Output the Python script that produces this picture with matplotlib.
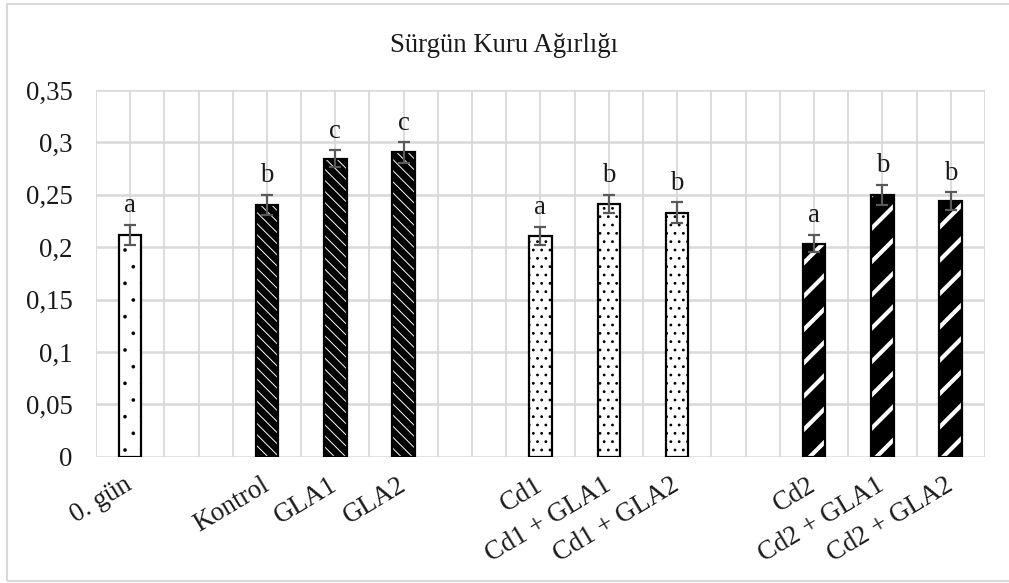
"""
Sürgün kuru ağırlığı bar chart, Excel-like pattern fills.
"""

import matplotlib

matplotlib.use("Agg")
import matplotlib.pyplot as plt
import matplotlib.ticker as mtick
from matplotlib.patches import Rectangle

plt.rcParams["font.family"] = ["Liberation Serif", "DejaVu Serif"]

# Data
categories = [
    "0. gün", "",
    "Kontrol", "GLA1", "GLA2", "",
    "Cd1", "Cd1 + GLA1", "Cd1 + GLA2", "",
    "Cd2", "Cd2 + GLA1", "Cd2 + GLA2",
]
values = [0.212, None, 0.2405, 0.2845, 0.2905, None,
          0.211, 0.2413, 0.233, None, 0.2035, 0.250, 0.2437]
errors = [0.0095, None, 0.0095, 0.008, 0.0097, None,
          0.0086, 0.0085, 0.0098, None, 0.0085, 0.0095, 0.0085]
letters = ["a", None, "b", "c", "c", None,
           "a", "b", "b", None, "a", "b", "b"]
# fill style per bar: (face, hatch, hatch colour, hatch linewidth)
styles = {
    "sparse": ("white", ".", "black", 0.2),
    "dark_diag": ("black", "\\\\\\", "white", 0.7),
    "dots": ("white", "..", "black", 0.8),
    "wide_diag": ("black", "/", "white", 3.0),
}
bar_styles = ["sparse", None, "dark_diag", "dark_diag", "dark_diag", None,
              "dots", "dots", "dots", None, "wide_diag", "wide_diag", "wide_diag"]

title = "Sürgün Kuru Ağırlığı"
yticks = [0, 0.05, 0.1, 0.15, 0.2, 0.25, 0.3, 0.35]

fig = plt.figure(figsize=(10.09, 5.83), dpi=100)
ax = fig.add_axes([0.0951, 0.2166, 0.881, 0.629])

grid_col = "#d9d9d9"
text_size = 19.3
bar_width = 0.33

for i, v in enumerate(values):
    if v is None:
        continue
    face, hatch, hcol, hlw = styles[bar_styles[i]]
    with plt.rc_context({"hatch.linewidth": hlw}):
        fill = ax.bar(i, v, width=bar_width, color=face, edgecolor=hcol,
                      hatch=hatch, linewidth=0, zorder=3)
    for p in fill:
        if hasattr(p, "set_hatch_linewidth"):
            p.set_hatch_linewidth(hlw)
    ax.bar(i, v, width=bar_width, facecolor="none", edgecolor="black",
           linewidth=1.6, zorder=4)
    ax.errorbar(i, v, yerr=errors[i], fmt="none", ecolor="#595959",
                elinewidth=1.6, capsize=4.5, capthick=1.6, zorder=5)
    ax.annotate(letters[i], (i, v + errors[i]), xytext=(0, 9),
                textcoords="offset points", ha="center", va="baseline",
                fontsize=text_size, color="#1a1a1a")

ax.set_xlim(-0.5, len(categories) - 0.5)
ax.set_ylim(0, 0.35)
ax.set_yticks(yticks)
ax.yaxis.set_major_formatter(
    mtick.FuncFormatter(lambda y, _: f"{y:g}".replace(".", ","))
)

# gridlines: horizontal at ticks, vertical at every half slot
for y in yticks:
    ax.axhline(y, color=grid_col, linewidth=1.8, zorder=1)
for k in range(2 * len(categories) + 1):
    ax.axvline(-0.5 + 0.5 * k, color=grid_col, linewidth=1.3, zorder=1)

ax.set_xticks(range(len(categories)))
ax.set_xticklabels(categories, rotation=31, ha="right", va="center",
                   rotation_mode="anchor", fontsize=text_size, color="#1a1a1a")
ax.tick_params(axis="x", length=0, pad=19)
ax.tick_params(axis="y", length=0, pad=17, labelsize=text_size,
               labelcolor="#1a1a1a")
for s in ax.spines.values():
    s.set_visible(False)

fig.text(0.5, 0.922, title, ha="center", va="center", fontsize=text_size,
         color="#1a1a1a")

# chart frame
fig.patches.append(Rectangle((0.007, 0.004), 1.2, 0.989, transform=fig.transFigure,
                             facecolor="none", edgecolor="#d9d9d9", linewidth=1.5))

fig.savefig("out.png", dpi=100)
